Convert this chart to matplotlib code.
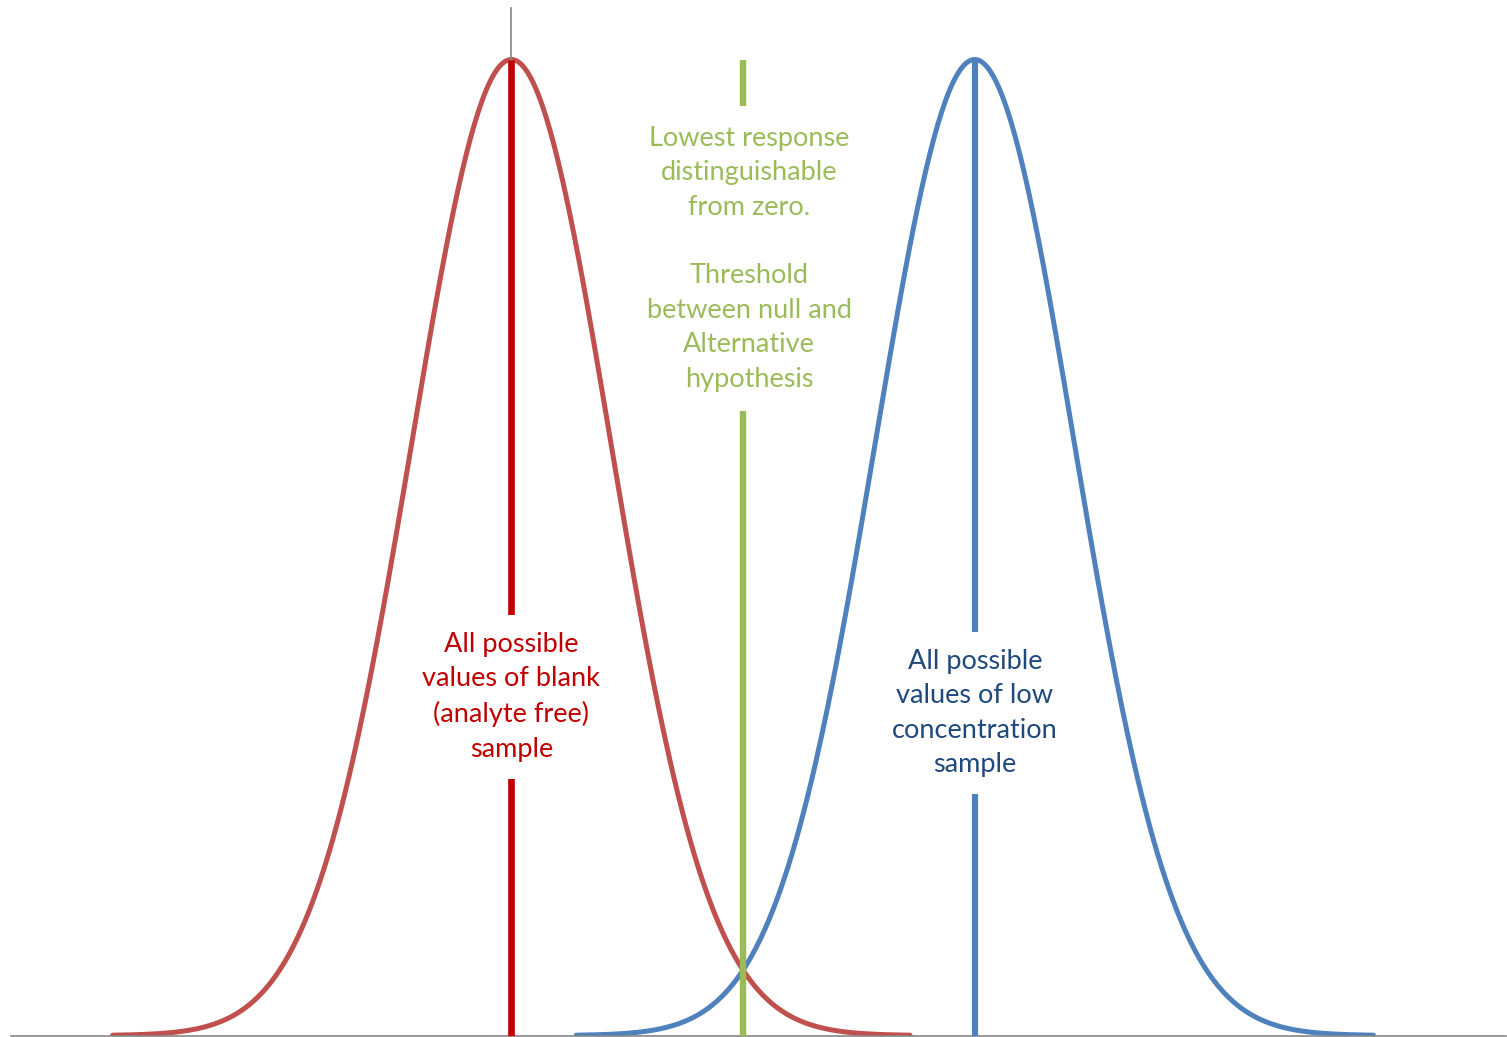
import numpy as np
import matplotlib.pyplot as plt

# distribution parameters (blank vs low-concentration sample)
blank_mean = 0.0
low_mean = 4.65
sd = 1.0
threshold = 2.326
span = 4.0  # curves drawn to +/- 4 sd

blank_label = "All possible\nvalues of blank\n(analyte free)\nsample"
low_label = "All possible\nvalues of low\nconcentration\nsample"
thresh_label = ("Lowest response\ndistinguishable\nfrom zero.\n\n"
                "Threshold\nbetween null and\nAlternative\nhypothesis")

red_curve = '#C0504D'
red_line = '#C00000'
blue_curve = '#4F81BD'
blue_text = '#1F497D'
green = '#9BBB59'


def normal_pdf(x, mu, s):
    return np.exp(-0.5 * ((x - mu) / s) ** 2) / (s * np.sqrt(2 * np.pi))


fig = plt.figure(figsize=(15.07, 10.37), dpi=100)
ax = fig.add_axes([11 / 1507, 1.5 / 1037, 1495 / 1507, 1027.5 / 1037])

peak = normal_pdf(0, 0, sd)

x_blank = np.linspace(blank_mean - span * sd, blank_mean + span * sd, 400)
x_low = np.linspace(low_mean - span * sd, low_mean + span * sd, 400)
ax.plot(x_blank, normal_pdf(x_blank, blank_mean, sd), color=red_curve, lw=3.6,
        solid_capstyle='round', zorder=2)
ax.plot(x_low, normal_pdf(x_low, low_mean, sd), color=blue_curve, lw=3.6,
        solid_capstyle='round', zorder=2)

ax.vlines(blank_mean, 0, peak, color=red_line, lw=4.8, zorder=3)
ax.vlines(low_mean, 0, peak, color=blue_curve, lw=4.4, zorder=3)
ax.vlines(threshold, 0, peak, color=green, lw=4.6, zorder=4)

font = 'Lato'
fs = 19.5
ls = 1.47
box = dict(facecolor='white', edgecolor='none', pad=12)
ax.text(blank_mean, 0.1384, blank_label, ha='center', va='center', color=red_line,
        fontsize=fs, family=font, linespacing=ls, bbox=box, zorder=5)
ax.text(low_mean, 0.1318, low_label, ha='center', va='center', color=blue_text,
        fontsize=fs, family=font, linespacing=ls, bbox=box, zorder=5)
ax.text(threshold + 0.06, 0.3175, thresh_label, ha='center', va='center', color=green,
        fontsize=fs, family=font, linespacing=ls,
        bbox=dict(facecolor='white', edgecolor='none', pad=14), zorder=5)

ax.set_xlim(-5.02, 9.98)
ax.set_ylim(0, 0.42)
ax.spines['left'].set_position(('data', 0))
for side in ['top', 'right']:
    ax.spines[side].set_visible(False)
for side in ['left', 'bottom']:
    ax.spines[side].set_color('#868686')
    ax.spines[side].set_linewidth(1.2)
ax.set_xticks([])
ax.set_yticks([])
ax.patch.set_alpha(0)

fig.savefig('out.png', dpi=100)
